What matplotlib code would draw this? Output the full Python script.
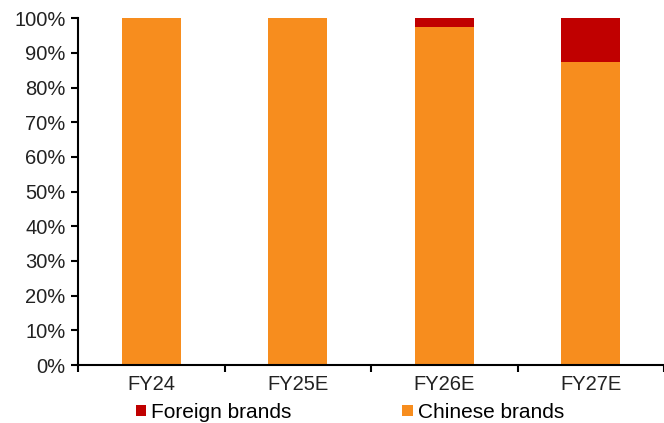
import numpy as np
import matplotlib.pyplot as plt
from matplotlib.ticker import PercentFormatter

plt.rcParams['font.family'] = ['Liberation Sans', 'DejaVu Sans']

categories = ["FY24", "FY25E", "FY26E", "FY27E"]
chinese_brands = [100.0, 100.0, 97.4, 87.3]
foreign_brands = [0.0, 0.0, 2.6, 12.7]

ORANGE = "#F78D1E"
RED = "#C00000"

fig = plt.figure(figsize=(6.64, 4.23), dpi=100)
ax = fig.add_axes([0.1175, 0.137, 0.8825, 0.82])

x = np.arange(len(categories))
ax.bar(x, chinese_brands, width=0.4, color=ORANGE, label="Chinese brands")
ax.bar(x, foreign_brands, width=0.4, bottom=chinese_brands, color=RED,
       label="Foreign brands")

ax.set_ylim(0, 100)
ax.set_xlim(-0.5, len(categories) - 0.5)
ax.yaxis.set_major_formatter(PercentFormatter(decimals=0))
ax.set_yticks(np.arange(0, 101, 10))

# category labels centred, ticks on the boundaries
ax.set_xticks(x)
ax.set_xticklabels(categories)
ax.tick_params(axis="x", length=0, pad=7)
ax.set_xticks(np.arange(-0.5, len(categories), 1), minor=True)
ax.tick_params(axis="x", which="minor", length=5, width=1.5, direction="out")
ax.tick_params(axis="y", length=5, width=1.5, direction="out", pad=4)
ax.tick_params(labelsize=14.5, colors="#222222")
ax.tick_params(axis="both", which="both", color="black")

for side in ["top", "right"]:
    ax.spines[side].set_visible(False)
for side in ["left", "bottom"]:
    ax.spines[side].set_linewidth(1.5)

handles, labels = ax.get_legend_handles_labels()
ax.legend(handles[::-1], labels[::-1], loc="upper center",
          bbox_to_anchor=(0.464, -0.085), ncol=2, frameon=False,
          fontsize=15, handlelength=0.5, handleheight=0.5,
          handletextpad=0.25, columnspacing=5.3, borderaxespad=0)

fig.savefig("out.png", dpi=100)
